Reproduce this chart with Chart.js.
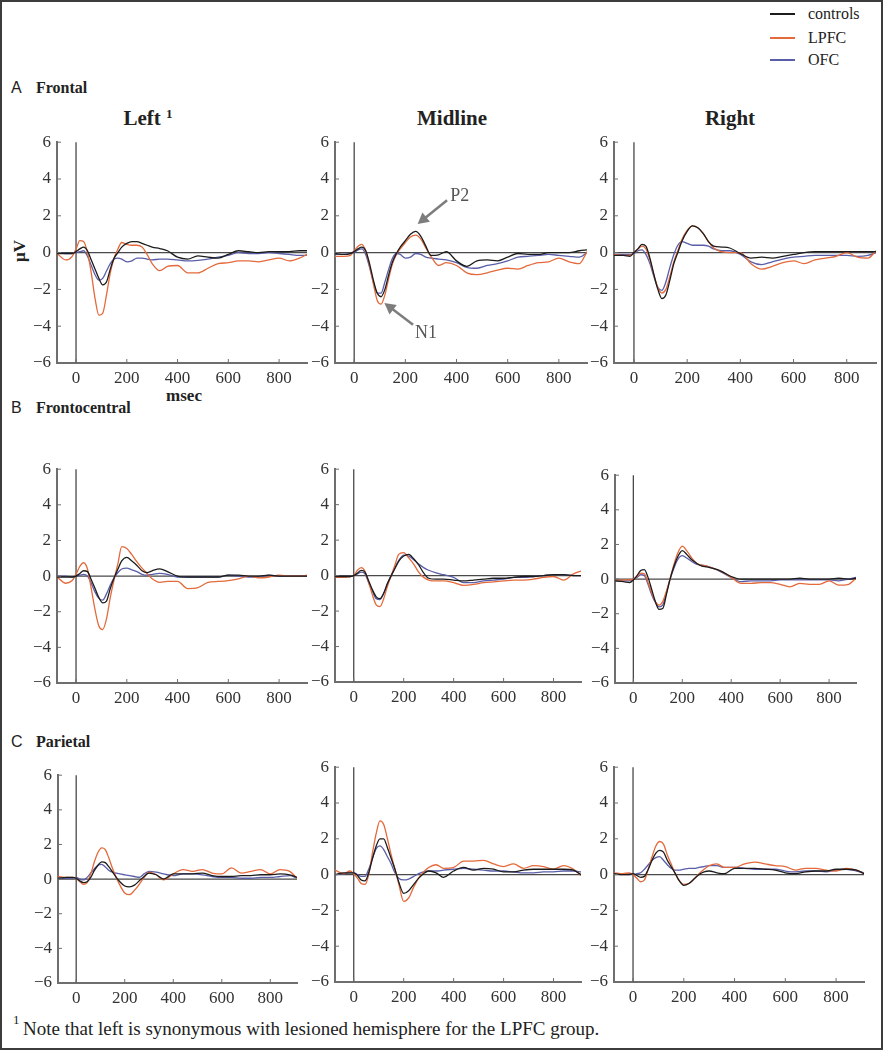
<!DOCTYPE html>
<html>
<head>
<meta charset="utf-8">
<script src="https://cdn.jsdelivr.net/npm/chart.js@4.4.1/dist/chart.umd.min.js"></script>
<style>
  body { margin: 0; background: #fff; }
  #fig { position: relative; width: 883px; height: 1050px; background: #fff; overflow: hidden;
         font-family: "Liberation Serif", "Times New Roman", serif; color: #222; }
  #frame { position: absolute; left: 0; top: 0; width: 883px; height: 1050px; box-sizing: border-box;
           border: 2px solid #3c3c3c; pointer-events: none; }
  canvas { position: absolute; }
  .t { position: absolute; white-space: nowrap; line-height: 1; }
  .c { transform: translate(-50%, -50%); }
  .l { transform: translate(0, -50%); }
  .b { font-weight: bold; }
  .sans { font-family: "Liberation Sans", Arial, sans-serif; }
  .lg { position: absolute; width: 25px; height: 2px; }
</style>
</head>
<body>
<div id="fig">
  <div class="lg" style="left:770px; top:13px; background:#1c1c1c"></div>
  <div class="lg" style="left:770px; top:37px; background:#e4693b"></div>
  <div class="lg" style="left:770px; top:59px; background:#5a5ea8"></div>
  <div class="t l" style="left:808px; top:14px; font-size:16px">controls</div>
  <div class="t l" style="left:808px; top:38px; font-size:16px">LPFC</div>
  <div class="t l" style="left:808px; top:60px; font-size:16px">OFC</div>

  <div class="t l sans" style="left:11px; top:88px; font-size:16px">A</div>
  <div class="t l b" style="left:36px; top:88px; font-size:16px">Frontal</div>
  <div class="t l sans" style="left:11px; top:408px; font-size:16px">B</div>
  <div class="t l b" style="left:36px; top:408px; font-size:16px">Frontocentral</div>
  <div class="t l sans" style="left:11px; top:742px; font-size:16px">C</div>
  <div class="t l b" style="left:36px; top:742px; font-size:16px">Parietal</div>

  <div class="t c b" style="left:148px; top:118px; font-size:21px">Left <sup style="font-size:13px; vertical-align:7px">1</sup></div>
  <div class="t c b" style="left:452px; top:118px; font-size:21px">Midline</div>
  <div class="t c b" style="left:730px; top:118px; font-size:21px">Right</div>

  <div class="t c b" style="left:19px; top:251px; font-size:17px; transform:translate(-50%,-50%) rotate(-90deg)">μV</div>
  <div class="t c b" style="left:184px; top:395px; font-size:17px">msec</div>

  <div class="t l" style="left:13px; top:1019px; font-size:13px">1</div>
  <div class="t l" style="left:23px; top:1028px; font-size:19px">Note that left is synonymous with lesioned hemisphere for the LPFC group.</div>
  <div id="frame"></div>
</div>
<script>
// sample times (msec) shared by every waveform
const times = [-75, -40, -15, 0, 15, 30, 45, 60, 75, 90, 105, 120, 135, 150, 165, 180, 200, 220, 240, 260,
               280, 300, 330, 360, 400, 440, 480, 520, 560, 600, 640, 680, 720, 760, 800, 840, 880, 910];

// A Frontal
const frontalLeftControls = [-0.05, -0.05, -0.05, 0.05, 0.2, 0.3, 0.1, -0.4, -0.9, -1.4, -1.75, -1.6, -0.9, -0.3, 0.0, 0.3, 0.5, 0.6, 0.6, 0.5,
                             0.4, 0.3, 0.22, 0.1, -0.25, -0.35, -0.18, -0.25, -0.3, -0.1, 0.1, 0.05, 0.0, 0.05, 0.05, 0.05, 0.1, 0.1];
const frontalLeftLPFC = [-0.05, -0.4, -0.2, 0.2, 0.65, 0.6, 0.0, -1.1, -2.5, -3.4, -3.3, -2.3, -1.1, -0.3, 0.2, 0.55, 0.45, 0.4, 0.4, 0.3,
                         -0.1, -0.6, -0.98, -0.75, -0.7, -1.1, -1.1, -0.85, -0.6, -0.55, -0.45, -0.45, -0.5, -0.4, -0.3, -0.45, -0.3, -0.1];
const frontalLeftOFC = [0.0, -0.05, -0.05, 0.0, 0.05, 0.1, -0.2, -0.7, -1.2, -1.5, -1.4, -1.0, -0.6, -0.35, -0.3, -0.35, -0.5, -0.45, -0.3, -0.3,
                        -0.35, -0.4, -0.35, -0.35, -0.4, -0.45, -0.42, -0.35, -0.25, -0.15, 0.0, -0.05, -0.05, 0.0, -0.05, -0.1, -0.15, -0.15];
const frontalMidControls = [-0.05, -0.1, -0.05, 0.05, 0.2, 0.3, 0.1, -0.6, -1.5, -2.2, -2.4, -2.0, -1.2, -0.5, -0.05, 0.3, 0.65, 1.0, 1.15, 0.9,
                            0.35, -0.15, -0.12, 0.05, -0.45, -0.75, -0.45, -0.4, -0.45, -0.25, -0.05, -0.1, -0.1, 0.0, 0.0, 0.0, 0.1, 0.15];
const frontalMidLPFC = [-0.2, -0.2, -0.15, 0.1, 0.35, 0.45, 0.1, -0.7, -1.7, -2.6, -2.8, -2.3, -1.4, -0.6, -0.1, 0.2, 0.55, 0.85, 0.95, 0.75,
                        0.25, -0.2, -0.7, -0.55, -0.7, -1.1, -1.2, -1.1, -0.95, -0.85, -0.9, -0.7, -0.55, -0.5, -0.3, -0.5, -0.6, 0.05];
const frontalMidOFC = [-0.1, -0.1, -0.05, 0.0, 0.15, 0.2, -0.1, -0.8, -1.6, -2.2, -2.2, -1.6, -0.9, -0.3, -0.05, -0.1, -0.3, -0.25, -0.05, -0.1,
                       -0.25, -0.3, -0.35, -0.4, -0.55, -0.8, -0.85, -0.7, -0.6, -0.45, -0.25, -0.2, -0.15, -0.1, -0.15, -0.2, -0.25, 0.0];
const frontalRightControls = [-0.15, -0.15, -0.2, 0.0, 0.2, 0.45, 0.35, -0.3, -1.2, -2.0, -2.5, -2.3, -1.5, -0.6, 0.0, 0.6, 1.15, 1.45, 1.35, 1.05,
                              0.6, 0.35, 0.3, 0.25, -0.05, -0.3, -0.25, -0.3, -0.2, -0.1, 0.0, 0.05, 0.05, 0.05, 0.05, 0.05, 0.05, 0.05];
const frontalRightLPFC = [-0.1, -0.15, -0.15, 0.0, 0.2, 0.35, 0.2, -0.4, -1.2, -1.9, -2.2, -2.0, -1.3, -0.5, 0.1, 0.7, 1.2, 1.45, 1.35, 1.05,
                          0.6, 0.25, 0.05, 0.0, 0.0, -0.6, -0.9, -0.75, -0.55, -0.45, -0.6, -0.4, -0.3, -0.2, 0.0, -0.25, -0.3, 0.1];
const frontalRightOFC = [-0.1, -0.1, -0.1, -0.05, 0.1, 0.15, -0.1, -0.6, -1.3, -1.9, -2.05, -1.6, -0.8, -0.1, 0.4, 0.6, 0.5, 0.4, 0.4, 0.4,
                         0.35, 0.2, 0.1, 0.1, -0.1, -0.5, -0.65, -0.5, -0.35, -0.25, -0.2, -0.15, -0.15, -0.15, -0.15, -0.2, -0.15, 0.0];

// B Frontocentral
const frontocentralLeftControls = [-0.05, -0.05, -0.05, 0.0, 0.15, 0.3, 0.25, -0.2, -0.7, -1.2, -1.5, -1.4, -0.7, -0.1, 0.4, 0.85, 1.05, 0.85, 0.6, 0.3,
                                   0.2, 0.3, 0.4, 0.25, 0.0, -0.05, -0.05, -0.05, -0.05, 0.05, 0.05, 0.0, 0.0, 0.05, 0.0, 0.0, 0.0, 0.0];
const frontocentralLeftLPFC = [-0.05, -0.4, -0.25, 0.1, 0.55, 0.75, 0.4, -0.7, -1.9, -2.8, -3.0, -2.4, -1.2, -0.2, 0.7, 1.65, 1.55, 1.2, 0.8, 0.45,
                               0.15, -0.15, -0.35, -0.3, -0.3, -0.7, -0.65, -0.35, -0.3, -0.25, -0.15, 0.0, -0.1, -0.05, 0.05, 0.0, 0.0, 0.05];
const frontocentralLeftOFC = [0.0, 0.0, -0.05, 0.0, 0.05, 0.1, 0.0, -0.4, -0.9, -1.25, -1.35, -1.0, -0.5, -0.1, 0.2, 0.4, 0.45, 0.35, 0.25, 0.1,
                              0.05, 0.1, 0.15, 0.1, -0.05, -0.05, -0.05, -0.05, -0.05, 0.05, 0.0, -0.05, -0.05, 0.05, 0.0, 0.0, 0.0, 0.0];
const frontocentralMidControls = [-0.05, -0.05, -0.05, 0.0, 0.15, 0.3, 0.2, -0.3, -0.8, -1.2, -1.3, -1.0, -0.45, 0.0, 0.4, 0.8, 1.1, 1.2, 0.95, 0.6,
                                  0.15, -0.15, -0.2, -0.2, -0.25, -0.3, -0.25, -0.2, -0.15, -0.15, -0.1, -0.05, -0.05, 0.0, 0.05, 0.05, 0.0, 0.0];
const frontocentralMidLPFC = [-0.1, -0.1, -0.05, 0.0, 0.3, 0.45, 0.25, -0.4, -1.1, -1.65, -1.75, -1.3, -0.6, 0.0, 0.6, 1.2, 1.3, 1.0, 0.65, 0.2,
                              -0.1, -0.25, -0.3, -0.3, -0.4, -0.55, -0.5, -0.4, -0.35, -0.3, -0.25, -0.25, -0.2, -0.1, -0.05, -0.25, 0.1, 0.25];
const frontocentralMidOFC = [-0.05, -0.05, -0.05, 0.0, 0.1, 0.2, 0.1, -0.4, -0.9, -1.3, -1.35, -1.0, -0.45, 0.0, 0.45, 0.85, 1.15, 1.1, 0.9, 0.65,
                             0.45, 0.3, 0.15, 0.05, -0.1, -0.4, -0.4, -0.3, -0.25, -0.2, -0.1, -0.1, -0.05, 0.0, 0.05, 0.05, 0.0, 0.0];
const frontocentralRightControls = [-0.1, -0.15, -0.2, -0.05, 0.2, 0.5, 0.55, 0.1, -0.6, -1.3, -1.75, -1.7, -0.9, 0.0, 0.7, 1.25, 1.65, 1.4, 1.1, 0.9,
                                    0.75, 0.7, 0.6, 0.45, 0.15, 0.0, 0.0, 0.0, 0.0, 0.0, 0.0, 0.05, 0.0, 0.0, 0.0, 0.05, 0.0, 0.05];
const frontocentralRightLPFC = [-0.1, -0.05, -0.05, 0.0, 0.15, 0.35, 0.3, -0.2, -0.8, -1.3, -1.5, -1.3, -0.7, 0.0, 0.8, 1.45, 1.9, 1.6, 1.2, 0.9,
                                0.8, 0.75, 0.6, 0.45, 0.1, -0.25, -0.25, -0.2, -0.2, -0.3, -0.45, -0.25, -0.3, -0.3, -0.1, -0.35, -0.3, 0.05];
const frontocentralRightOFC = [-0.1, -0.1, -0.1, 0.0, 0.1, 0.25, 0.2, -0.3, -0.9, -1.35, -1.6, -1.5, -0.8, 0.0, 0.6, 1.1, 1.35, 1.2, 1.0, 0.85,
                               0.8, 0.75, 0.6, 0.4, 0.1, -0.15, -0.1, -0.1, -0.1, -0.05, -0.05, -0.05, -0.05, -0.05, -0.05, -0.1, 0.0, 0.1];

// C Parietal
const parietalLeftControls = [0.05, 0.1, 0.1, 0.05, -0.1, -0.2, -0.15, 0.1, 0.5, 0.8, 1.0, 0.95, 0.7, 0.4, 0.1, -0.15, -0.4, -0.45, -0.35, -0.1,
                              0.15, 0.35, 0.25, 0.0, 0.3, 0.3, 0.3, 0.35, 0.2, 0.15, 0.15, 0.2, 0.2, 0.25, 0.25, 0.3, 0.25, 0.1];
const parietalLeftLPFC = [0.15, 0.1, 0.1, 0.05, -0.15, -0.3, -0.2, 0.3, 1.0, 1.55, 1.8, 1.7, 1.2, 0.6, 0.1, -0.35, -0.8, -0.9, -0.65, -0.3,
                          0.1, 0.4, 0.25, -0.05, 0.3, 0.55, 0.45, 0.55, 0.35, 0.3, 0.65, 0.35, 0.45, 0.55, 0.3, 0.55, 0.45, 0.05];
const parietalLeftOFC = [0.05, 0.05, 0.05, 0.1, 0.0, -0.05, 0.1, 0.35, 0.6, 0.8, 0.85, 0.7, 0.5, 0.4, 0.35, 0.3, 0.25, 0.2, 0.15, 0.1,
                         0.3, 0.45, 0.4, 0.3, 0.2, 0.3, 0.3, 0.25, 0.15, 0.1, 0.1, 0.05, 0.05, 0.1, 0.1, 0.15, 0.2, 0.05];
const parietalMidControls = [0.0, 0.1, 0.1, 0.1, -0.05, -0.3, -0.35, 0.1, 0.9, 1.6, 2.0, 2.0, 1.5, 0.9, 0.3, -0.4, -1.05, -0.9, -0.55, -0.2,
                             0.05, 0.2, 0.1, -0.15, 0.2, 0.4, 0.25, 0.35, 0.3, 0.15, 0.15, 0.25, 0.3, 0.3, 0.3, 0.3, 0.25, 0.0];
const parietalMidLPFC = [0.25, 0.05, 0.2, 0.05, -0.2, -0.5, -0.55, 0.0, 1.2, 2.3, 3.0, 2.8, 2.0, 1.1, 0.3, -0.5, -1.5, -1.3, -0.7, -0.2,
                         0.15, 0.4, 0.55, 0.35, 0.4, 0.75, 0.75, 0.8, 0.6, 0.45, 0.6, 0.35, 0.5, 0.45, 0.3, 0.5, 0.3, -0.05];
const parietalMidOFC = [0.0, 0.05, 0.1, 0.1, 0.0, -0.1, -0.1, 0.3, 0.9, 1.45, 1.6, 1.4, 1.0, 0.6, 0.1, -0.2, -0.3, -0.25, -0.1, 0.05,
                        0.15, 0.2, 0.2, 0.25, 0.3, 0.35, 0.3, 0.25, 0.2, 0.2, 0.15, 0.1, 0.1, 0.15, 0.15, 0.2, 0.2, 0.15];
const parietalRightControls = [0.05, 0.0, 0.0, 0.05, -0.05, -0.15, -0.1, 0.3, 0.8, 1.2, 1.35, 1.25, 0.8, 0.45, 0.1, -0.3, -0.6, -0.5, -0.25, 0.0,
                               0.15, 0.2, 0.1, 0.05, 0.35, 0.35, 0.35, 0.3, 0.25, 0.1, 0.05, 0.15, 0.2, 0.2, 0.3, 0.3, 0.25, 0.05];
const parietalRightLPFC = [0.1, 0.05, 0.1, 0.0, -0.2, -0.4, -0.3, 0.3, 1.0, 1.6, 1.85, 1.7, 1.1, 0.6, 0.1, -0.3, -0.55, -0.5, -0.25, 0.05,
                           0.3, 0.5, 0.6, 0.4, 0.4, 0.6, 0.7, 0.6, 0.5, 0.45, 0.25, 0.35, 0.35, 0.25, 0.2, 0.35, 0.25, 0.05];
const parietalRightOFC = [0.05, 0.05, 0.05, 0.0, 0.05, 0.1, 0.3, 0.55, 0.8, 0.95, 1.0, 0.8, 0.55, 0.35, 0.25, 0.25, 0.3, 0.35, 0.35, 0.4,
                          0.45, 0.5, 0.5, 0.4, 0.4, 0.35, 0.3, 0.3, 0.3, 0.2, 0.15, 0.2, 0.2, 0.15, 0.25, 0.3, 0.2, 0.1];

const xTickValues = [0, 200, 400, 600, 800];
const yTickValues = [-6, -4, -2, 0, 2, 4, 6];
const groupNames = ['controls', 'LPFC', 'OFC'];
const groupColors = ['#1c1c1c', '#e4693b', '#5a5ea8'];

const panelData = [
  [frontalLeftControls, frontalLeftLPFC, frontalLeftOFC],
  [frontalMidControls, frontalMidLPFC, frontalMidOFC],
  [frontalRightControls, frontalRightLPFC, frontalRightOFC],
  [frontocentralLeftControls, frontocentralLeftLPFC, frontocentralLeftOFC],
  [frontocentralMidControls, frontocentralMidLPFC, frontocentralMidOFC],
  [frontocentralRightControls, frontocentralRightLPFC, frontocentralRightOFC],
  [parietalLeftControls, parietalLeftLPFC, parietalLeftOFC],
  [parietalMidControls, parietalMidLPFC, parietalMidOFC],
  [parietalRightControls, parietalRightLPFC, parietalRightOFC]
];

// P2 / N1 call-outs on the frontal midline panel: [label, textX, textY, tailX, tailY, headX, headY]
const midlineNotes = [
  ['P2', 375, 3.05, 363, 2.85, 248, 1.55],
  ['N1', 238, -4.4, 230, -3.92, 118, -2.74]
];

// plot-area boxes on the page: left, top, width, height
const boxes = [
  [57, 140, 250, 223], [335, 140, 252, 223], [614, 140, 262, 223],
  [57, 467, 250, 216], [335, 467, 246, 215], [615, 473, 241, 210],
  [58, 773, 239, 210], [335, 765, 246, 217], [614, 765, 250, 217]
];
const padL = 46, padT = 14, padR = 10, padB = 30;

const refLines = {
  id: 'refLines',
  beforeDatasetsDraw(chart) {
    const {ctx, chartArea: a, scales: {x, y}} = chart;
    ctx.save();
    ctx.strokeStyle = '#4a4a4a';
    ctx.lineWidth = 1.3;
    ctx.beginPath();
    ctx.moveTo(a.left, y.getPixelForValue(0));
    ctx.lineTo(a.right, y.getPixelForValue(0));
    ctx.moveTo(x.getPixelForValue(0), a.top);
    ctx.lineTo(x.getPixelForValue(0), a.bottom);
    ctx.stroke();
    ctx.restore();
  },
  afterDraw(chart) {
    // MATLAB style inward ticks
    const {ctx, chartArea: a, scales: {x, y}} = chart;
    ctx.save();
    ctx.strokeStyle = '#6e6e6e';
    ctx.lineWidth = 1;
    ctx.beginPath();
    yTickValues.forEach(v => { const p = y.getPixelForValue(v); ctx.moveTo(a.left, p); ctx.lineTo(a.left + 4, p); });
    xTickValues.forEach(v => { const p = x.getPixelForValue(v); ctx.moveTo(p, a.bottom); ctx.lineTo(p, a.bottom - 4); });
    ctx.stroke();
    ctx.restore();
  }
};

const arrowNotes = {
  id: 'arrowNotes',
  afterDraw(chart, args, opts) {
    if (!opts.notes) return;
    const {ctx, scales: {x, y}} = chart;
    ctx.save();
    opts.notes.forEach(n => {
      const tx = x.getPixelForValue(n[3]), ty = y.getPixelForValue(n[4]);
      const hx = x.getPixelForValue(n[5]), hy = y.getPixelForValue(n[6]);
      const ang = Math.atan2(hy - ty, hx - tx);
      const len = 11;
      ctx.strokeStyle = '#7d7d7d';
      ctx.fillStyle = '#7d7d7d';
      ctx.lineWidth = 2.5;
      ctx.beginPath();
      ctx.moveTo(tx, ty);
      ctx.lineTo(hx - len * 0.8 * Math.cos(ang), hy - len * 0.8 * Math.sin(ang));
      ctx.stroke();
      ctx.beginPath();
      ctx.moveTo(hx, hy);
      ctx.lineTo(hx - len * Math.cos(ang) + 6 * Math.sin(ang), hy - len * Math.sin(ang) - 6 * Math.cos(ang));
      ctx.lineTo(hx - len * Math.cos(ang) - 6 * Math.sin(ang), hy - len * Math.sin(ang) + 6 * Math.cos(ang));
      ctx.closePath();
      ctx.fill();
      ctx.fillStyle = '#555';
      ctx.font = '18px "Liberation Serif"';
      ctx.textBaseline = 'middle';
      ctx.fillText(n[0], x.getPixelForValue(n[1]), y.getPixelForValue(n[2]));
    });
    ctx.restore();
  }
};

const tickFont = {family: 'Liberation Serif', size: 17};
const fig = document.getElementById('fig');

panelData.forEach((series, i) => {
  const b = boxes[i];
  const canvas = document.createElement('canvas');
  canvas.width = b[2] + padL + padR;
  canvas.height = b[3] + padT + padB;
  canvas.style.left = (b[0] - padL) + 'px';
  canvas.style.top = (b[1] - padT) + 'px';
  fig.insertBefore(canvas, document.getElementById('frame'));

  new Chart(canvas, {
    type: 'line',
    data: {
      datasets: series.map((vals, g) => ({
        label: groupNames[g],
        data: times.map((t, k) => ({x: t, y: vals[k]})),
        borderColor: groupColors[g],
        borderWidth: 1.3,
        pointRadius: 0,
        cubicInterpolationMode: 'monotone',
        fill: false
      }))
    },
    options: {
      responsive: false,
      animation: false,
      events: [],
      layout: {padding: {top: padT, right: padR, left: 0, bottom: 0}},
      plugins: {
        legend: {display: false},
        tooltip: {enabled: false},
        arrowNotes: {notes: i === 1 ? midlineNotes : null}
      },
      scales: {
        x: {
          type: 'linear', min: -75, max: 910,
          afterBuildTicks: s => { s.ticks = xTickValues.map(v => ({value: v})); },
          afterFit: s => { s.height = padB; },
          grid: {display: false, drawTicks: false},
          border: {display: true, color: '#6e6e6e', width: 2},
          ticks: {padding: 5, color: '#333', font: tickFont, maxRotation: 0, autoSkip: false}
        },
        y: {
          type: 'linear', min: -6, max: 6,
          afterBuildTicks: s => { s.ticks = yTickValues.map(v => ({value: v})); },
          afterFit: s => { s.width = padL; },
          grid: {display: false, drawTicks: false},
          border: {display: true, color: '#6e6e6e', width: 2},
          ticks: {padding: 6, color: '#333', font: tickFont, autoSkip: false,
                  callback: v => v < 0 ? '\u2212' + Math.abs(v) : String(v)}
        }
      }
    },
    plugins: [refLines, arrowNotes]
  });
});
</script>
</body>
</html>
